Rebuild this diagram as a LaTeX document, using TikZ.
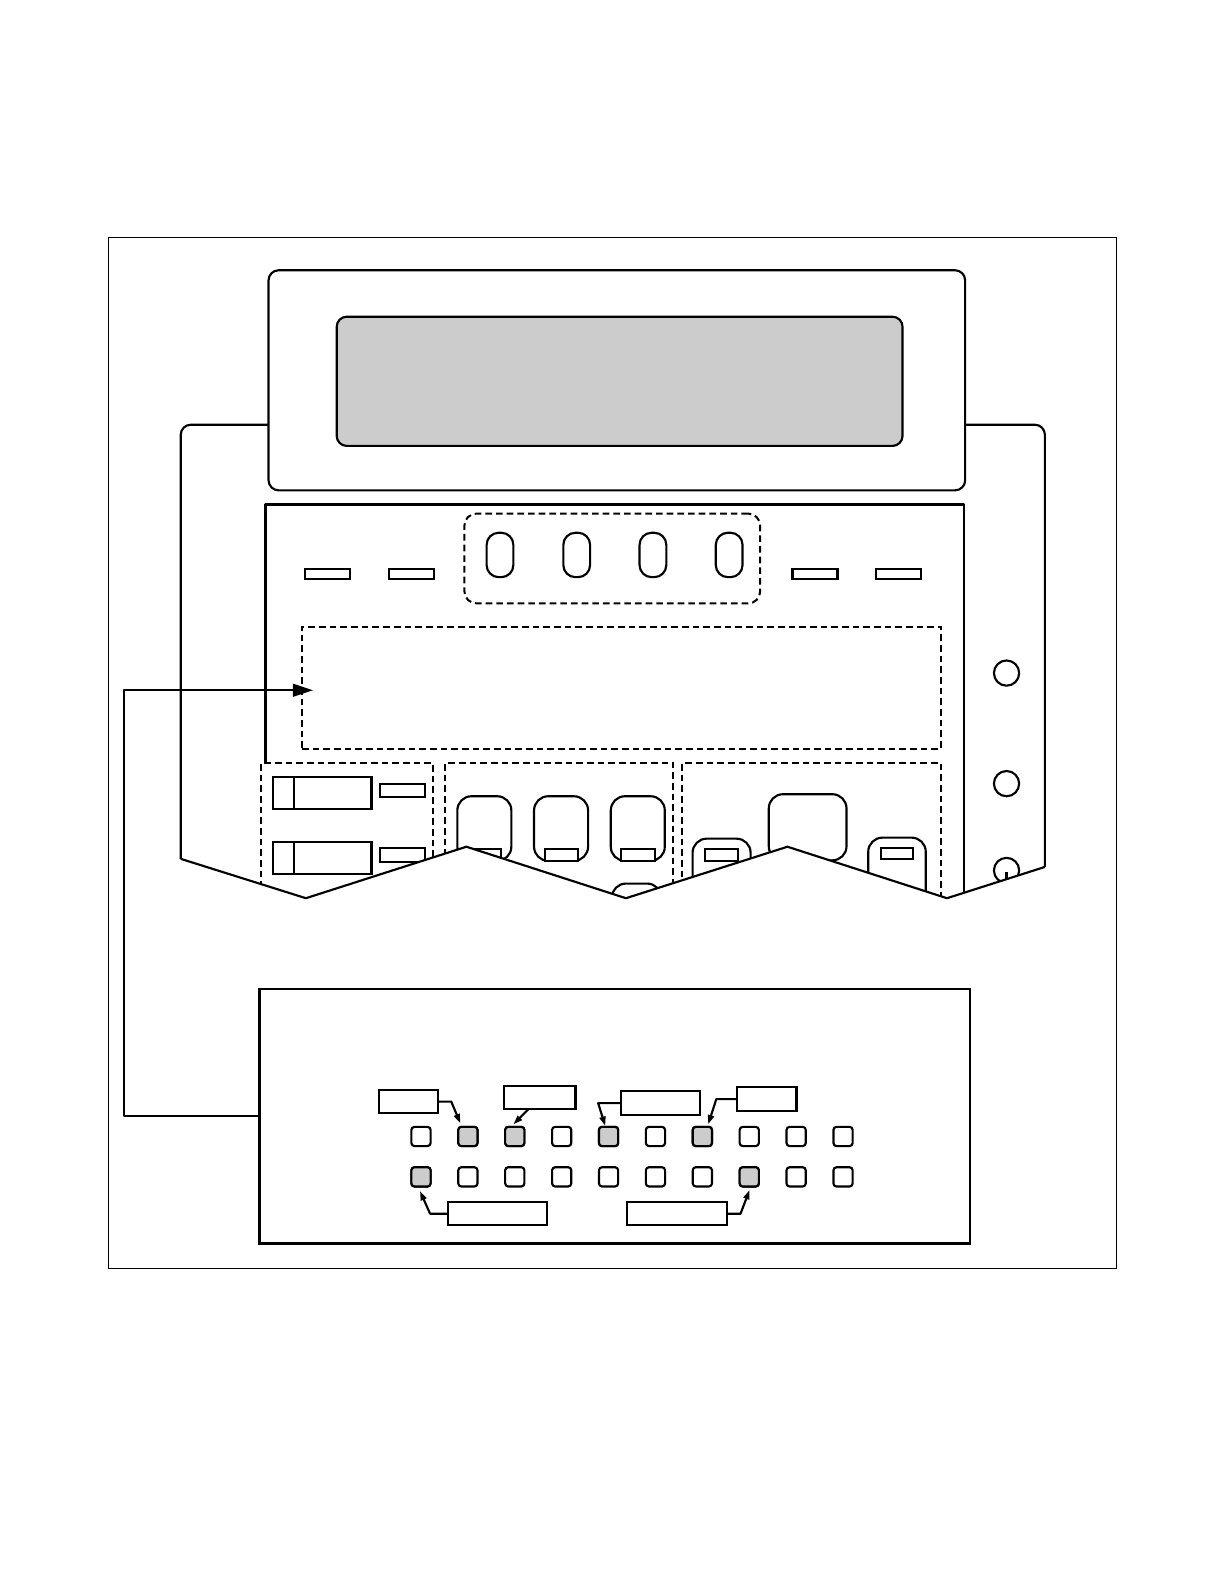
\documentclass[tikz,border=0pt]{standalone}
\usetikzlibrary{arrows.meta}
\tikzset{
  line/.style={line width=1.6pt,line join=round},
  thin frame/.style={line width=0.6pt},
  ln/.style={line,draw=black},
  dashline/.style={line width=1.5pt,draw=black,dash pattern=on 5pt off 3pt},
  boxn/.style={rectangle,draw=black,line width=1.6pt,inner sep=0pt,outer sep=0pt,fill=white},
  rnd/.style={boxn,rounded corners=#1*0.757pt},
  tipsmall/.style={-{Triangle[length=7pt,width=4.5pt]}},
  tiplarge/.style={-{Triangle[length=15pt,width=9.5pt]}},
  keycap/.style={rnd=3,minimum width=14.4pt,minimum height=14.4pt},
  lit/.style={fill=lcd}
}
\definecolor{lcd}{gray}{0.8}
% \bx{name}{x1}{y1}{x2}{y2}{style}
\newcommand{\bx}[6]{%
  \pgfmathsetmacro{\bxw}{((#4)-(#2))*0.757}\pgfmathsetmacro{\bxh}{((#5)-(#3))*0.757}%
  \pgfmathsetmacro{\bxcx}{((#2)+(#4))/2}\pgfmathsetmacro{\bxcy}{((#3)+(#5))/2}%
  \node[#6,minimum width=\bxw pt,minimum height=\bxh pt] (#1) at (\bxcx,\bxcy) {};}
\begin{document}
\begin{tikzpicture}[x=0.757pt,y=-0.757pt]
\useasboundingbox (0,-0.7) rectangle (1212.5,1568.3);
\fill[white] (0,-0.7) rectangle (1212.5,1568.3);
\draw[thin frame] (107.5,234.5) rectangle (1105.5,1255.5);
% rear housing
\draw[ln,rounded corners=10*0.757pt] (266,420) -- (179,420) -- (179,850);
\draw[ln,rounded corners=10*0.757pt] (956,420) -- (1035,420) -- (1035,858);
% front panel edges
\draw[ln] (263,755) -- (263,499) -- (955,499) -- (955,885);
% housing of display
\bx{head}{266}{267}{956}{485}{rnd=10}
\bx{lcdpanel}{333.5}{313}{894}{441}{rnd=10,lit}
% upper buttons
\bx{softgroup}{460}{508}{753}{597}{rnd=12,dashline,fill=none}
\foreach \n/\a in {p1/482,p2/558,p3/633.5,p4/709}{
  \bx{\n}{\a}{527}{\a+26.5}{571}{rnd=12}
}
\foreach \n/\a in {r1/302,r2/385,r3/785,r4/868}{
  \bx{\n}{\a}{563}{\a+44.5}{573}{boxn}
}
\bx{keyfield}{299}{620}{932}{741}{boxn,dashline,fill=none}
% lower dashed groups
\draw[dashline] (259,900) -- (259,755) -- (429,755) -- (429,900);
\draw[dashline] (441,900) -- (441,755) -- (667,755) -- (667,900);
\draw[dashline] (676,900) -- (676,755) -- (932,755) -- (932,900);
% sliders
\foreach \n/\t in {a/769,b/833}{
  \bx{sl\n}{270}{\t}{368}{\t+32}{boxn}
  \draw[ln] (291,\t) -- (291,\t+32);
  \bx{sm\n}{376}{\t+6.5}{421}{\t+20}{boxn}
}
% buttons with tabs
\foreach \n/\a in {c/453,d/529,e/605}{
  \bx{bt\n}{\a}{788}{\a+53.5}{852}{rnd=14}
  \bx{tb\n}{\a+10.5}{840.5}{\a+43.5}{852}{boxn}
}
\bx{btf}{606}{874.5}{655}{910}{rnd=14}
\bx{btg}{686}{830}{743.5}{900}{rnd=14}
\bx{tbg}{698.5}{840.5}{731}{852}{boxn}
\bx{bth}{761.5}{786}{838.5}{851.5}{rnd=14}
\bx{bti}{860}{829}{917}{900}{rnd=14}
\bx{tbi}{872.5}{839}{904.5}{850.5}{boxn}
% round keys
\foreach \n/\c in {k1/666,k2/775.5,k3/861.5}{
  \draw[ln,fill=white] (997,\c) circle[radius=12.5];
}
\draw[ln] (997,863.5) -- (997,875);
% cut-away zigzag
\fill[white] (179,850) -- (303,889) -- (462,838) -- (620,889) -- (780,838) -- (938,889) -- (1035,858) -- (1035,960) -- (179,960) -- cycle;
\draw[ln] (179,850) -- (303,889) -- (462,838) -- (620,889) -- (780,838) -- (938,889) -- (1035,858);
% detail box
\bx{detail}{257}{979}{961}{1231}{boxn}
\coordinate (keytarget) at (310,683);
\coordinate (bendlow) at (123,1105);
\coordinate (bendhigh) at (123,683);
\draw[ln,tiplarge] (detail.west) -- (bendlow) -- (bendhigh) -- (keytarget);
% key map
\foreach \i in {0,...,9}{
  \pgfmathsetmacro{\cx}{417+46.45*\i}
  \node[keycap] (u\i) at (\cx,1125) {};
  \node[keycap] (l\i) at (\cx,1165) {};
}
\foreach \n in {u1,u2,u4,u6,l0,l7}{
  \path (\n.center) node[keycap,lit] {};
}
% callouts
\bx{ca}{375}{1079}{434}{1102}{boxn}
\bx{cb}{499}{1075}{570}{1098}{boxn}
\bx{cc}{615}{1080}{693}{1104}{boxn}
\bx{cd}{730}{1076}{789}{1100}{boxn}
\bx{ce}{444}{1190}{542}{1213}{boxn}
\bx{cf}{621}{1190}{720}{1213}{boxn}
\coordinate (ta) at (456,1112);
\coordinate (tb) at (508.5,1113);
\coordinate (tc) at (599.5,1114.5);
\coordinate (td) at (701.5,1113);
\coordinate (te) at (416,1179);
\coordinate (tf) at (742.5,1178);
\draw[ln,tipsmall] (ca.east) -- (447,1090.5) -- (ta);
\draw[ln,tipsmall] (523.5,1098) -- (tb);
\draw[ln,tipsmall] (cc.west) -- (592.5,1092) -- (tc);
\draw[ln,tipsmall] (cd.west) -- (709.5,1088) -- (td);
\draw[ln,tipsmall] (ce.west) -- (426,1201.5) -- (te);
\draw[ln,tipsmall] (cf.east) -- (733.5,1201.5) -- (tf);
\end{tikzpicture}
\end{document}
